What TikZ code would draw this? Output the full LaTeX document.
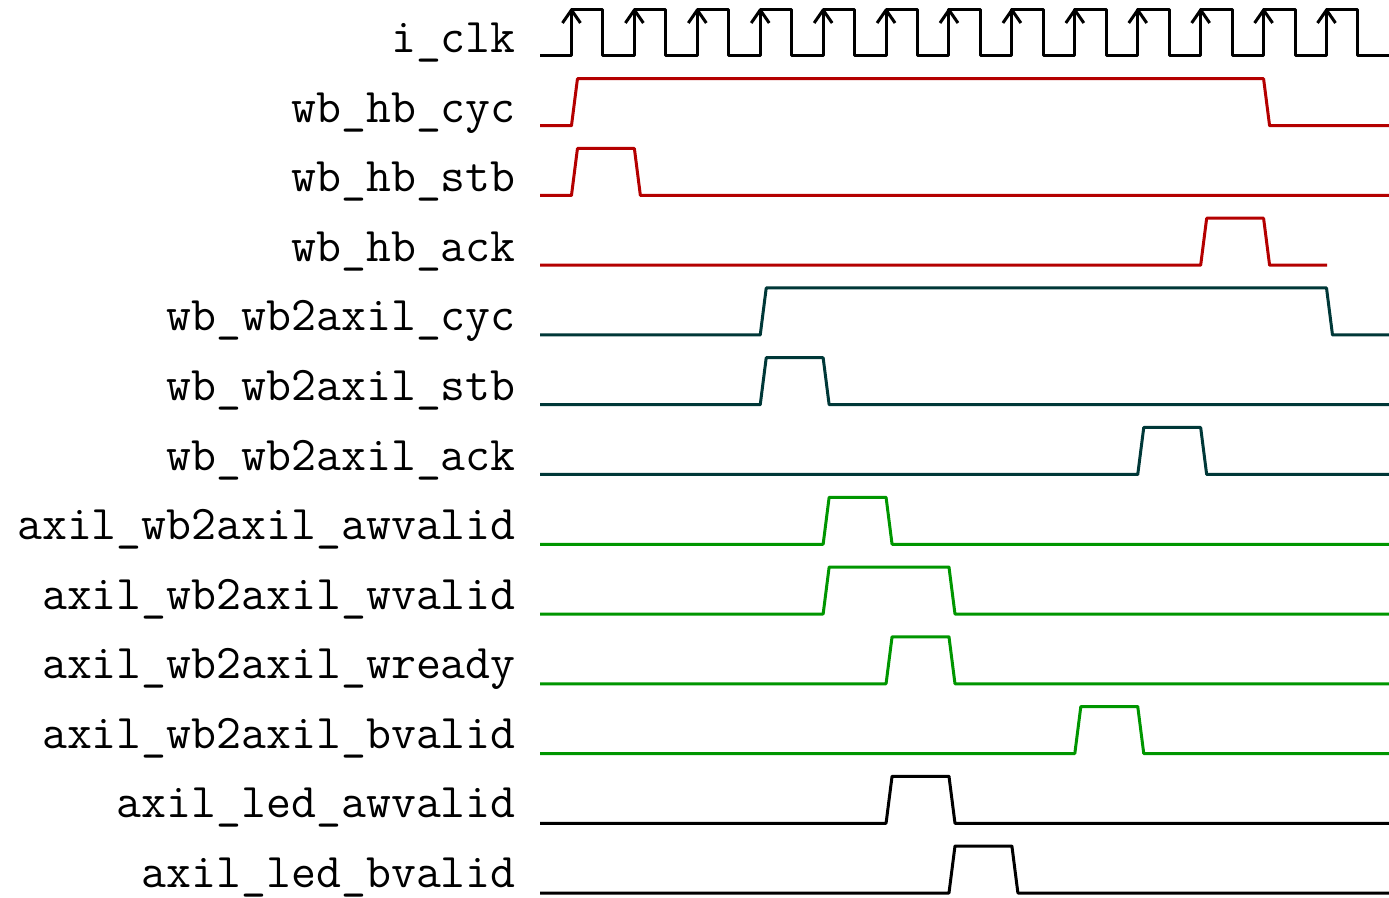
\documentclass[tikz,border=0pt]{standalone}
\usepackage{fontspec}
\definecolor{hbred}{RGB}{180,0,0}
\definecolor{bridgeteal}{RGB}{0,56,56}
\definecolor{axigreen}{RGB}{0,150,0}
\tikzset{
  wave/.style={line width=2.25pt, line join=round},
  lab/.style={anchor=base east, inner sep=0pt, font=\fontsize{36.3}{40}\selectfont\ttfamily},
  declare function={ed(\k)=540+31.46*(2*\k+1); lo(\i)=56+69.75*\i; hi(\i)=lo(\i)-47;
                    bl(\i)=53+69.5*\i;}
}
% single pulse: style, row, rising edge, falling edge, end x
\newcommand\pulsewave[5]{%
  \draw[wave,#1] (540,{lo(#2)}) -- ({ed(#3)},{lo(#2)}) -- ({ed(#3)+6},{hi(#2)})
    -- ({ed(#4)},{hi(#2)}) -- ({ed(#4)+6},{lo(#2)}) -- (#5,{lo(#2)});}
\begin{document}
\begin{tikzpicture}[x=0.75pt,y=-0.75pt]
\useasboundingbox (0,0) rectangle (1389,898);

% signal names
\foreach \name [count=\i from 0] in {i\_clk, wb\_hb\_cyc, wb\_hb\_stb, wb\_hb\_ack,
  wb\_wb2axil\_cyc, wb\_wb2axil\_stb, wb\_wb2axil\_ack, axil\_wb2axil\_awvalid,
  axil\_wb2axil\_wvalid, axil\_wb2axil\_wready, axil\_wb2axil\_bvalid,
  axil\_led\_awvalid, axil\_led\_bvalid}
  \node[lab] (lab\i) at (516,{bl(\i)}) {\name};

% clock with rising-edge markers
\draw[wave] (540,56) foreach \k in {0,...,12} {
    -- ({ed(\k)},56) -- ({ed(\k)},10) -- ({ed(\k)+31.46},10) -- ({ed(\k)+31.46},56) }
  -- (1389,56);
\foreach \k in {0,...,12}
  \draw[wave] ({ed(\k)-9},23) -- ({ed(\k)},10) -- ({ed(\k)+9},23);

% wishbone host side
\pulsewave{hbred}{1}{0}{11}{1389}
\pulsewave{hbred}{2}{0}{1}{1389}
\pulsewave{hbred}{3}{10}{11}{1327}

% wishbone bridge side
\pulsewave{bridgeteal}{4}{3}{12}{1389}
\pulsewave{bridgeteal}{5}{3}{4}{1389}
\pulsewave{bridgeteal}{6}{9}{10}{1389}

% AXI-lite bridge
\pulsewave{axigreen}{7}{4}{5}{1389}
\pulsewave{axigreen}{8}{4}{6}{1389}
\pulsewave{axigreen}{9}{5}{6}{1389}
\pulsewave{axigreen}{10}{8}{9}{1389}

% AXI-lite LED
\pulsewave{black}{11}{5}{6}{1389}
\pulsewave{black}{12}{6}{7}{1389}
\end{tikzpicture}
\end{document}
